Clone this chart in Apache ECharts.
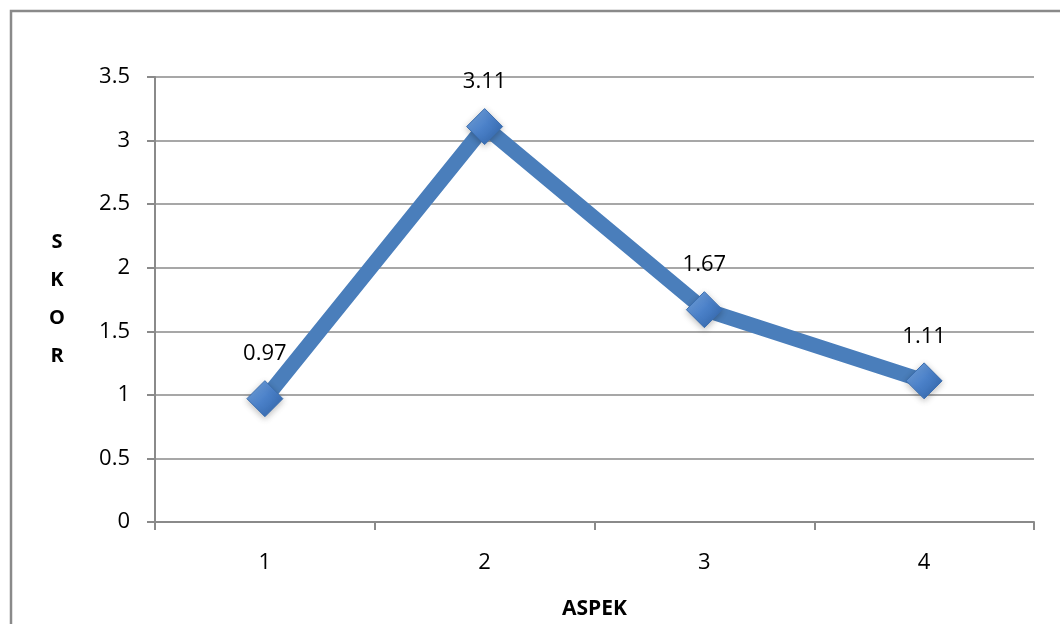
<!DOCTYPE html>
<html>
<head>
<meta charset="utf-8">
<title>Skor per Aspek</title>
<script src="https://cdn.jsdelivr.net/npm/echarts@6/dist/echarts.min.js"></script>
<style>
  html, body { margin: 0; padding: 0; background: #ffffff; }
  #chart { width: 1060px; height: 624px; }
</style>
</head>
<body>
<div id="chart"></div>
<script>
// Aspect categories and their scores
const categories = ['1', '2', '3', '4'];
const scores = [0.97, 3.11, 1.67, 1.11];
const xAxisTitle = 'ASPEK';
const yAxisTitle = 'S\nK\nO\nR';

const FONT = '"Open Sans", "Noto Sans", sans-serif';
const GRAY = '#8a8a8a';

const chart = echarts.init(document.getElementById('chart'), null, { renderer: 'canvas' });

chart.setOption({
  backgroundColor: '#ffffff',
  animation: false,
  graphic: [{
    // outer chart frame
    type: 'rect',
    silent: true,
    z: -10,
    shape: { x: 11, y: 11, width: 1200, height: 800 },
    style: { fill: 'none', stroke: GRAY, lineWidth: 2.5 }
  }],
  grid: { left: 155, right: 26, top: 77, bottom: 102, containLabel: false, outerBoundsMode: 'none' },
  xAxis: {
    type: 'category',
    data: categories,
    boundaryGap: true,
    name: xAxisTitle,
    nameLocation: 'middle',
    nameGap: 77,
    nameTextStyle: { fontFamily: FONT, fontSize: 21, fontWeight: 'bold', color: '#000' },
    axisLine: { lineStyle: { color: GRAY, width: 2 } },
    axisTick: { show: true, length: 8, inside: false, alignWithLabel: false, lineStyle: { color: GRAY, width: 2 } },
    axisLabel: { fontFamily: FONT, fontSize: 22, color: '#000', margin: 30 },
    splitLine: { show: false }
  },
  yAxis: {
    type: 'value',
    min: 0,
    max: 3.5,
    interval: 0.5,
    name: yAxisTitle,
    nameLocation: 'middle',
    nameRotate: 0,
    nameGap: 98,
    nameTextStyle: {
      fontFamily: FONT, fontSize: 20, fontWeight: 'bold', color: '#000',
      lineHeight: 38, align: 'center', verticalAlign: 'middle', padding: [8, 0, 0, 0]
    },
    axisLine: { show: true, lineStyle: { color: GRAY, width: 2 } },
    axisTick: { show: true, length: 8, lineStyle: { color: GRAY, width: 2 } },
    axisLabel: { fontFamily: FONT, fontSize: 22, color: '#000', margin: 25 },
    splitLine: { show: true, lineStyle: { color: GRAY, width: 1.5 } }
  },
  series: [{
    type: 'line',
    data: scores,
    symbol: 'diamond',
    symbolSize: 36,
    lineStyle: { color: '#4a7ebb', width: 15, cap: 'round', join: 'round' },
    itemStyle: {
      color: new echarts.graphic.LinearGradient(0, 0, 1, 1, [
        { offset: 0, color: '#7aa8e0' },
        { offset: 0.5, color: '#4a80c8' },
        { offset: 1, color: '#2f62a6' }
      ]),
      borderColor: '#3c6fb0',
      borderWidth: 1,
      shadowColor: 'rgba(0,0,0,0.25)',
      shadowBlur: 6,
      shadowOffsetY: 2
    },
    label: {
      show: true,
      position: 'top',
      distance: 15,
      fontFamily: FONT,
      fontSize: 22,
      color: '#000'
    },
    z: 3
  }]
});
</script>
</body>
</html>
